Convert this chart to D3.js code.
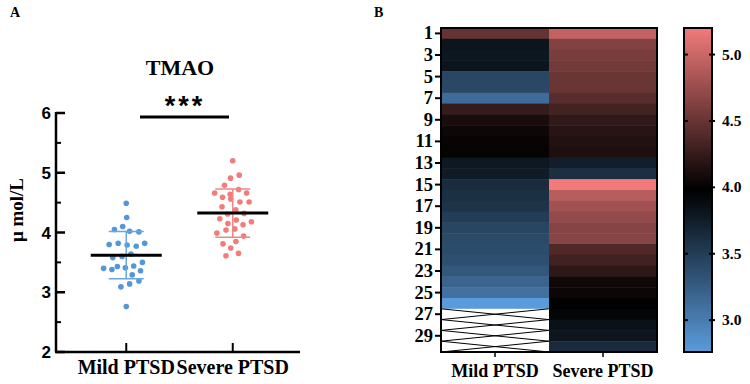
<!DOCTYPE html>
<html>
<head>
<meta charset="utf-8">
<script src="https://cdn.jsdelivr.net/npm/d3@7"></script>
<style>
  body { margin: 0; background: #fff; }
  svg { display: block; }
  .serif { font-family: "Liberation Serif", "Times New Roman", serif; font-weight: bold; }
  .sans { font-family: "Liberation Sans", Arial, sans-serif; font-weight: bold; }
</style>
</head>
<body>
<div id="chart"></div>
<script>
// TMAO levels (umol/L), listed in heatmap row order (rows 1..n)
const groups = ["Mild PTSD", "Severe PTSD"];
const mildValues = [4.49, 3.82, 3.80, 3.82, 3.43, 3.41, 3.14, 4.25, 4.10, 4.05, 4.02, 4.01, 3.79,
                    3.77, 3.64, 3.60, 3.58, 3.50, 3.44, 3.40, 3.38, 3.36, 3.29, 3.19, 3.09, 2.76];
const severeValues = [4.96, 4.64, 4.59, 4.56, 4.51, 4.51, 4.43, 4.32, 4.23, 4.18, 4.15, 4.13, 3.74,
                      3.61, 5.20, 4.91, 4.79, 4.72, 4.66, 4.66, 4.38, 4.31, 4.21, 4.06, 4.04, 3.99,
                      3.94, 3.85, 3.81, 3.65];
const yTicksA = [2, 3, 4, 5, 6];
const rowCount = 30;
const rowTickLabels = [1, 3, 5, 7, 9, 11, 13, 15, 17, 19, 21, 23, 25, 27, 29];
const colorbarTicks = [3.0, 3.5, 4.0, 4.5, 5.0];

const width = 750, height = 384;
const blue = "#5596d8", red = "#f07c7c";
const blueBar = "#6aa6df", redBar = "#f08686";

const svg = d3.select("#chart").append("svg")
    .attr("width", width)
    .attr("height", height);

// ---------- Panel A: scatter with mean +/- SD ----------
const gA = svg.append("g");
const y = d3.scaleLinear().domain([2, 6]).range([352, 113]);
const x = d3.scaleBand().domain(groups).range([73, 286]).padding(0);
const cx = g => x(g) + x.bandwidth() / 2;

gA.append("text").attr("class", "serif").attr("x", 10).attr("y", 17)
    .attr("font-size", 14).text("A");

gA.append("text").attr("class", "serif").attr("x", 180).attr("y", 75)
    .attr("text-anchor", "middle").attr("font-size", 22).text("TMAO");

gA.append("text").attr("class", "sans").attr("x", 185).attr("y", 115)
    .attr("text-anchor", "middle").attr("font-size", 27).attr("letter-spacing", 3).text("***");
gA.append("line").attr("x1", 140).attr("x2", 229).attr("y1", 117).attr("y2", 117)
    .attr("stroke", "#000").attr("stroke-width", 3);

// y axis
const axisColor = "#000";
gA.append("line").attr("x1", 56).attr("x2", 56).attr("y1", y(6) - 1).attr("y2", y(2))
    .attr("stroke", axisColor).attr("stroke-width", 2.5);
gA.append("line").attr("x1", 55).attr("x2", 300).attr("y1", y(2)).attr("y2", y(2))
    .attr("stroke", axisColor).attr("stroke-width", 2.5);
const minor = d3.range(2.5, 6, 1);
gA.selectAll(".tmaj").data(yTicksA).enter().append("line")
    .attr("x1", 56).attr("x2", 65).attr("y1", d => y(d)).attr("y2", d => y(d))
    .attr("stroke", axisColor).attr("stroke-width", 2.5);
gA.selectAll(".tmin").data(minor).enter().append("line")
    .attr("x1", 56).attr("x2", 61).attr("y1", d => y(d)).attr("y2", d => y(d))
    .attr("stroke", axisColor).attr("stroke-width", 2);
gA.selectAll(".tlab").data(yTicksA).enter().append("text")
    .attr("class", "sans").attr("font-size", 17)
    .attr("x", 51).attr("y", d => y(d) + 6).attr("text-anchor", "end")
    .text(d => d);

gA.selectAll(".xtick").data(groups).enter().append("line")
    .attr("x1", d => cx(d)).attr("x2", d => cx(d))
    .attr("y1", y(2)).attr("y2", y(2) - 9)
    .attr("stroke", axisColor).attr("stroke-width", 2);
gA.selectAll(".xlab").data(groups).enter().append("text")
    .attr("class", "serif").attr("font-size", 20)
    .attr("x", d => cx(d)).attr("y", 374).attr("text-anchor", "middle")
    .text(d => d);

gA.append("text").attr("class", "serif").attr("font-size", 19)
    .attr("transform", "translate(23,210) rotate(-90)")
    .attr("text-anchor", "middle").text("μ mol/L");

// points, spread with a small collision layout
const series = [
  { group: "Mild PTSD", values: mildValues, color: blue, bar: blueBar },
  { group: "Severe PTSD", values: severeValues, color: red, bar: redBar }
];
const r = 2.8;
series.forEach(s => {
  const nodes = s.values.map(v => ({ v: v, x: cx(s.group), y: y(v) }));
  const sim = d3.forceSimulation(nodes)
      .force("x", d3.forceX(cx(s.group)).strength(0.04))
      .force("y", d3.forceY(d => y(d.v)).strength(1))
      .force("collide", d3.forceCollide(4.6))
      .stop();
  for (let i = 0; i < 300; i++) sim.tick();

  const m = d3.mean(s.values), sd = d3.deviation(s.values);
  const c = cx(s.group);
  const gs = gA.append("g");
  gs.selectAll("circle").data(nodes).enter().append("circle")
      .attr("cx", d => d.x).attr("cy", d => y(d.v)).attr("r", r)
      .attr("fill", s.color);
  gs.append("line").attr("x1", c).attr("x2", c).attr("y1", y(m + sd)).attr("y2", y(m - sd))
      .attr("stroke", s.bar).attr("stroke-width", 1.5);
  [m + sd, m - sd].forEach(v => {
    gs.append("line").attr("x1", c - 17.5).attr("x2", c + 17.5).attr("y1", y(v)).attr("y2", y(v))
        .attr("stroke", s.bar).attr("stroke-width", 1.5);
  });
  gs.append("line").attr("x1", c - 35.5).attr("x2", c + 35.5).attr("y1", y(m)).attr("y2", y(m))
      .attr("stroke", "#000").attr("stroke-width", 3);
});

// ---------- Panel B: heatmap ----------
const gB = svg.append("g");
gB.append("text").attr("class", "serif").attr("x", 374).attr("y", 17)
    .attr("font-size", 14).text("B");

const rows = d3.range(1, rowCount + 1);
const hx = d3.scaleBand().domain(groups).range([441, 657]);
const hy = d3.scaleBand().domain(rows).range([28, 352]);

const all = mildValues.concat(severeValues);
const lo = d3.min(all), hi = d3.max(all);
const color = d3.scaleLinear()
    .domain([lo, (lo + hi) / 2, hi])
    .range(["#5a9bdb", "#000000", "#f27a7a"]);

const cells = [];
series.forEach(s => {
  rows.forEach((row, i) => {
    cells.push({ group: s.group, row: row, v: i < s.values.length ? s.values[i] : null });
  });
});

gB.selectAll(".cell").data(cells).enter().append("rect")
    .attr("x", d => hx(d.group)).attr("y", d => hy(d.row))
    .attr("width", hx.bandwidth()).attr("height", hy.bandwidth() + 0.5)
    .attr("fill", d => d.v == null ? "#fff" : color(d.v));

// missing cells get a cross
const missing = cells.filter(d => d.v == null);
missing.forEach(d => {
  const x0 = hx(d.group), x1 = x0 + hx.bandwidth();
  const y0 = hy(d.row), y1 = y0 + hy.bandwidth();
  gB.append("path")
      .attr("d", `M${x0},${y0}L${x1},${y1}M${x0},${y1}L${x1},${y0}`)
      .attr("stroke", "#000").attr("stroke-width", 1).attr("fill", "none");
});

gB.append("rect").attr("x", 441).attr("y", 28).attr("width", 216).attr("height", 324)
    .attr("fill", "none").attr("stroke", "#000").attr("stroke-width", 2);

gB.selectAll(".rtick").data(rowTickLabels).enter().append("line")
    .attr("x1", 435).attr("x2", 441)
    .attr("y1", d => hy(d) + hy.bandwidth() / 2).attr("y2", d => hy(d) + hy.bandwidth() / 2)
    .attr("stroke", "#000").attr("stroke-width", 2);
gB.selectAll(".rlab").data(rowTickLabels).enter().append("text")
    .attr("class", "serif").attr("font-size", 18.5)
    .attr("x", 433).attr("y", d => hy(d) + hy.bandwidth() / 2 + 6)
    .attr("text-anchor", "end").text(d => d);

gB.selectAll(".ctick").data(groups).enter().append("line")
    .attr("x1", d => hx(d) + hx.bandwidth() / 2).attr("x2", d => hx(d) + hx.bandwidth() / 2)
    .attr("y1", 352).attr("y2", 357)
    .attr("stroke", "#000").attr("stroke-width", 1.5);
gB.selectAll(".clab").data(groups).enter().append("text")
    .attr("class", "serif").attr("font-size", 18)
    .attr("x", d => hx(d) + hx.bandwidth() / 2).attr("y", 377)
    .attr("text-anchor", "middle").text(d => d);

// colour bar
const cbY = d3.scaleLinear().domain([lo, hi]).range([352, 28]);
const grad = svg.append("defs").append("linearGradient")
    .attr("id", "cbar").attr("x1", 0).attr("x2", 0).attr("y1", 1).attr("y2", 0);
d3.range(0, 1.0001, 0.05).forEach(t => {
  grad.append("stop").attr("offset", t).attr("stop-color", color(lo + t * (hi - lo)));
});
gB.append("rect").attr("x", 684).attr("y", 28).attr("width", 28).attr("height", 324)
    .attr("fill", "url(#cbar)").attr("stroke", "#000").attr("stroke-width", 2);
gB.selectAll(".cbt").data(colorbarTicks).enter().append("line")
    .attr("x1", 709).attr("x2", 715).attr("y1", d => cbY(d)).attr("y2", d => cbY(d))
    .attr("stroke", "#000").attr("stroke-width", 2);
gB.selectAll(".cbtl").data(colorbarTicks).enter().append("line")
    .attr("x1", 685).attr("x2", 688).attr("y1", d => cbY(d)).attr("y2", d => cbY(d))
    .attr("stroke", "#000").attr("stroke-width", 2);
gB.selectAll(".cbl").data(colorbarTicks).enter().append("text")
    .attr("class", "serif").attr("font-size", 15.5)
    .attr("x", 722).attr("y", d => cbY(d) + 5)
    .text(d => d.toFixed(1));
</script>
</body>
</html>
